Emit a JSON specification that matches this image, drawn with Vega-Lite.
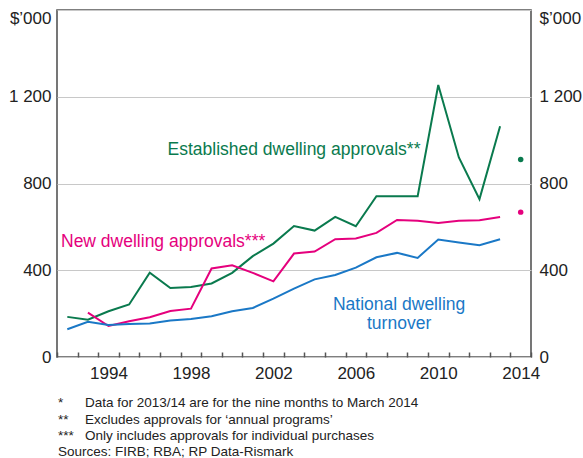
{
  "$schema": "https://vega.github.io/schema/vega-lite/v6.json",
  "width": 474,
  "height": 347,
  "autosize": {"type": "none"},
  "padding": {"left": 57, "top": 10, "right": 52, "bottom": 101},
  "config": {
    "view": {"stroke": "#555555", "strokeWidth": 1.6},
    "font": "Liberation Sans",
    "text": {"font": "Liberation Sans"}
  },
  "datasets": {
    "lines": [
      {"x": 1992, "y": 185, "series": "Established"},
      {"x": 1993, "y": 172, "series": "Established"},
      {"x": 1994, "y": 211, "series": "Established"},
      {"x": 1995, "y": 242, "series": "Established"},
      {"x": 1996, "y": 389, "series": "Established"},
      {"x": 1997, "y": 318, "series": "Established"},
      {"x": 1998, "y": 323, "series": "Established"},
      {"x": 1999, "y": 339, "series": "Established"},
      {"x": 2000, "y": 388, "series": "Established"},
      {"x": 2001, "y": 465, "series": "Established"},
      {"x": 2002, "y": 523, "series": "Established"},
      {"x": 2003, "y": 604, "series": "Established"},
      {"x": 2004, "y": 583, "series": "Established"},
      {"x": 2005, "y": 646, "series": "Established"},
      {"x": 2006, "y": 603, "series": "Established"},
      {"x": 2007, "y": 741, "series": "Established"},
      {"x": 2008, "y": 741, "series": "Established"},
      {"x": 2009, "y": 741, "series": "Established"},
      {"x": 2010, "y": 1254, "series": "Established"},
      {"x": 2011, "y": 920, "series": "Established"},
      {"x": 2012, "y": 728, "series": "Established"},
      {"x": 2013, "y": 1064, "series": "Established"},
      {"x": 1993, "y": 205, "series": "New"},
      {"x": 1994, "y": 143, "series": "New"},
      {"x": 1995, "y": 165, "series": "New"},
      {"x": 1996, "y": 183, "series": "New"},
      {"x": 1997, "y": 212, "series": "New"},
      {"x": 1998, "y": 223, "series": "New"},
      {"x": 1999, "y": 408, "series": "New"},
      {"x": 2000, "y": 423, "series": "New"},
      {"x": 2001, "y": 388, "series": "New"},
      {"x": 2002, "y": 349, "series": "New"},
      {"x": 2003, "y": 477, "series": "New"},
      {"x": 2004, "y": 486, "series": "New"},
      {"x": 2005, "y": 543, "series": "New"},
      {"x": 2006, "y": 546, "series": "New"},
      {"x": 2007, "y": 572, "series": "New"},
      {"x": 2008, "y": 632, "series": "New"},
      {"x": 2009, "y": 628, "series": "New"},
      {"x": 2010, "y": 618, "series": "New"},
      {"x": 2011, "y": 628, "series": "New"},
      {"x": 2012, "y": 631, "series": "New"},
      {"x": 2013, "y": 646, "series": "New"},
      {"x": 1992, "y": 128, "series": "Turnover"},
      {"x": 1993, "y": 162, "series": "Turnover"},
      {"x": 1994, "y": 148, "series": "Turnover"},
      {"x": 1995, "y": 152, "series": "Turnover"},
      {"x": 1996, "y": 155, "series": "Turnover"},
      {"x": 1997, "y": 168, "series": "Turnover"},
      {"x": 1998, "y": 175, "series": "Turnover"},
      {"x": 1999, "y": 188, "series": "Turnover"},
      {"x": 2000, "y": 211, "series": "Turnover"},
      {"x": 2001, "y": 226, "series": "Turnover"},
      {"x": 2002, "y": 269, "series": "Turnover"},
      {"x": 2003, "y": 315, "series": "Turnover"},
      {"x": 2004, "y": 358, "series": "Turnover"},
      {"x": 2005, "y": 378, "series": "Turnover"},
      {"x": 2006, "y": 412, "series": "Turnover"},
      {"x": 2007, "y": 460, "series": "Turnover"},
      {"x": 2008, "y": 480, "series": "Turnover"},
      {"x": 2009, "y": 457, "series": "Turnover"},
      {"x": 2010, "y": 542, "series": "Turnover"},
      {"x": 2011, "y": 528, "series": "Turnover"},
      {"x": 2012, "y": 515, "series": "Turnover"},
      {"x": 2013, "y": 543, "series": "Turnover"}
    ],
    "points": [
      {"x": 2014, "y": 911, "series": "Established"},
      {"x": 2014, "y": 668, "series": "New"}
    ],
    "labels": [
      {"x": 2003.0, "y": 954, "label": "Established dwelling approvals**", "series": "Established"},
      {"x": 1996.65, "y": 531, "label": "New dwelling approvals***", "series": "New"},
      {"x": 2008.1, "y": 239, "label": "National dwelling", "series": "Turnover"},
      {"x": 2008.1, "y": 151, "label": "turnover", "series": "Turnover"}
    ],
    "notes": [
      {"x": 1991.55, "y": -214, "label": "*"},
      {"x": 1992.86, "y": -214, "label": "Data for 2013/14 are for the nine months to March 2014"},
      {"x": 1991.55, "y": -292, "label": "**"},
      {"x": 1992.86, "y": -292, "label": "Excludes approvals for ‘annual programs’"},
      {"x": 1991.55, "y": -366, "label": "***"},
      {"x": 1992.86, "y": -366, "label": "Only includes approvals for individual purchases"},
      {"x": 1991.55, "y": -440, "label": "Sources: FIRB; RBA; RP Data-Rismark"}
    ]
  },
  "encoding": {
    "x": {
      "field": "x",
      "type": "quantitative",
      "scale": {"domain": [1991.5, 2014.5], "nice": false, "zero": false},
      "axis": {
        "title": null,
        "values": [1991.5, 1992.5, 1993.5, 1994.5, 1995.5, 1996.5, 1997.5, 1998.5, 1999.5, 2000.5, 2001.5, 2002.5, 2003.5, 2004.5, 2005.5, 2006.5, 2007.5, 2008.5, 2009.5, 2010.5, 2011.5, 2012.5, 2013.5, 2014.5],
        "labelExpr": "indexof([1993.5, 1997.5, 2001.5, 2005.5, 2009.5, 2013.5], datum.value) >= 0 ? toString(datum.value + 0.5) : ''",
        "labelOffset": 10.3,
        "labelFlush": false,
        "labelOverlap": false,
        "labelFontSize": 17,
        "labelFont": "Liberation Sans",
        "labelColor": "#222222",
        "labelPadding": 13,
        "tickSize": -5,
        "tickColor": "#555555",
        "tickWidth": 1.5,
        "domain": false,
        "grid": false
      }
    }
  },
  "layer": [
    {
      "data": {"name": "lines"},
      "mark": {"type": "line", "strokeWidth": 2},
      "encoding": {
        "y": {
          "field": "y",
          "type": "quantitative",
          "scale": {"domain": [0, 1600], "nice": false},
          "axis": {
            "orient": "left",
            "title": null,
            "values": [0, 400, 800, 1200, 1600],
            "labelExpr": "datum.value == 1600 ? '$’000' : replace(format(datum.value, ','), ',', ' ')",
            "labelBaseline": {"condition": {"test": "datum.value == 1600", "value": "top"}, "value": "middle"},
            "labelFontSize": 17,
            "labelFont": "Liberation Sans",
            "labelColor": "#222222",
            "labelPadding": 6,
            "ticks": false,
            "domain": false,
            "grid": true,
            "gridColor": "#c8c8c8",
            "gridWidth": 1.2
          }
        },
        "color": {
          "field": "series",
          "type": "nominal",
          "scale": {"domain": ["Established", "New", "Turnover"], "range": ["#0a7a4e", "#e5007d", "#1a78c6"]},
          "legend": null
        },
        "detail": {"field": "series"}
      }
    },
    {
      "data": {"name": "points"},
      "mark": {"type": "point", "filled": true, "opacity": 1, "size": 30},
      "encoding": {
        "y": {
          "field": "y",
          "type": "quantitative",
          "scale": {"domain": [0, 1600], "nice": false},
          "axis": {
            "orient": "right",
            "title": null,
            "values": [0, 400, 800, 1200, 1600],
            "labelExpr": "datum.value == 1600 ? '$’000' : replace(format(datum.value, ','), ',', ' ')",
            "labelBaseline": {"condition": {"test": "datum.value == 1600", "value": "top"}, "value": "middle"},
            "labelFontSize": 17,
            "labelFont": "Liberation Sans",
            "labelColor": "#222222",
            "labelPadding": 8,
            "ticks": false,
            "domain": false,
            "grid": false
          }
        },
        "color": {"field": "series", "type": "nominal", "legend": null}
      }
    },
    {
      "data": {"name": "labels"},
      "mark": {"type": "text", "fontSize": 17.5, "align": "center", "baseline": "middle", "font": "Liberation Sans"},
      "encoding": {
        "y": {"field": "y", "type": "quantitative", "axis": null},
        "text": {"field": "label"},
        "color": {"field": "series", "type": "nominal", "legend": null}
      }
    },
    {
      "data": {"name": "notes"},
      "mark": {"type": "text", "fontSize": 13.5, "align": "left", "baseline": "middle", "color": "#222222", "font": "Liberation Sans"},
      "encoding": {
        "y": {"field": "y", "type": "quantitative", "axis": null},
        "text": {"field": "label"}
      }
    }
  ],
  "resolve": {"axis": {"y": "independent"}}
}
